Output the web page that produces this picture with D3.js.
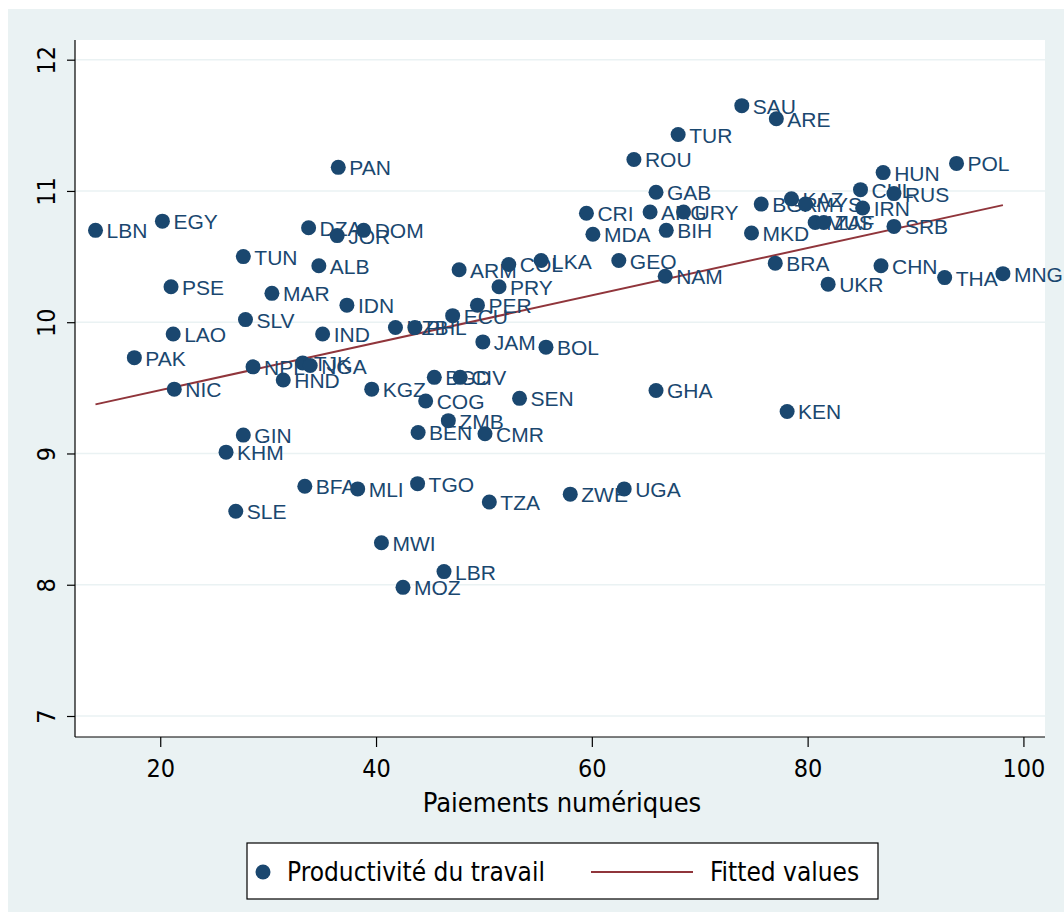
<!DOCTYPE html>
<html>
<head>
<meta charset="utf-8">
<script src="https://cdn.jsdelivr.net/npm/d3@7"></script>
<style>
  html, body { margin: 0; padding: 0; background: #fff; }
  svg { display: block; }
</style>
</head>
<body>
<div id="chart"></div>
<script>
// data //

const countries = ['LBN', 'EGY', 'PSE', 'LAO', 'PAK', 'NIC', 'TUN', 'MAR', 'SLV', 'DZA',
  'JOR', 'DOM', 'ALB', 'IDN', 'IND', 'PAN', 'NPL', 'TJK', 'NGA', 'HND',
  'KGZ', 'UZB', 'PHL', 'ECU', 'PER', 'PRY', 'ARM', 'COL', 'LKA', 'JAM',
  'BOL', 'BGD', 'CIV', 'COG', 'SEN', 'ZMB', 'BEN', 'CMR', 'GIN', 'KHM',
  'BFA', 'MLI', 'TGO', 'TZA', 'SLE', 'MWI', 'LBR', 'MOZ', 'ZWE', 'UGA',
  'GHA', 'KEN', 'NAM', 'GEO', 'MDA', 'CRI', 'GAB', 'ARG', 'URY', 'BIH',
  'ROU', 'TUR', 'SAU', 'ARE', 'MKD', 'BGR', 'KAZ', 'MYS', 'MUS', 'ZAF',
  'BRA', 'UKR', 'CHN', 'CHL', 'HUN', 'RUS', 'IRN', 'SRB', 'POL', 'THA', 'MNG']

const payments = [14.0, 20.2, 21.0, 21.2, 17.6, 21.3, 27.7, 30.35, 27.9, 33.75,
  36.4, 38.85, 34.7, 37.3, 35.05, 36.5, 28.6, 33.2, 33.9, 31.4,
  39.6, 41.8, 43.6, 47.1, 49.4, 51.4, 47.7, 52.3, 55.3, 49.9,
  55.75, 45.4, 47.8, 44.6, 53.3, 46.7, 43.9, 50.1, 27.7, 26.1,
  33.4, 38.3, 43.85, 50.5, 27.0, 40.5, 46.3, 42.5, 58.0, 63.0,
  65.95, 78.1, 66.8, 62.5, 60.1, 59.5, 65.95, 65.4, 68.5, 66.9,
  63.9, 68.0, 73.9, 77.1, 74.8, 75.7, 78.5, 79.8, 80.7, 81.5,
  77.0, 81.9, 86.8, 84.9, 87.0, 88.0, 85.1, 88.0, 93.8, 92.7, 98.1]

const productivity = [10.70, 10.77, 10.27, 9.91, 9.73, 9.49, 10.50, 10.22, 10.02, 10.72,
  10.66, 10.70, 10.43, 10.13, 9.91, 11.18, 9.66, 9.69, 9.67, 9.56,
  9.49, 9.96, 9.96, 10.05, 10.13, 10.27, 10.40, 10.44, 10.47, 9.85,
  9.81, 9.58, 9.58, 9.40, 9.42, 9.25, 9.16, 9.15, 9.14, 9.01,
  8.75, 8.73, 8.77, 8.63, 8.56, 8.32, 8.10, 7.98, 8.69, 8.73,
  9.48, 9.32, 10.35, 10.47, 10.67, 10.83, 10.99, 10.84, 10.84, 10.70,
  11.24, 11.43, 11.65, 11.55, 10.68, 10.90, 10.94, 10.90, 10.76, 10.76,
  10.45, 10.29, 10.43, 11.01, 11.14, 10.98, 10.87, 10.73, 11.21, 10.34, 10.37]

const xTicks = [20, 40, 60, 80, 100]
const yTicks = [7, 8, 9, 10, 11, 12]

const xTitle = 'Paiements numériques'
const legendLabels = ['Productivité du travail', 'Fitted values']

// layout //

const width = 1064
const height = 912
const plot = { left: 75, right: 1045, top: 40, bottom: 737 }

const navy = '#1a476f'
const maroon = '#90353b'
const bgBlue = '#eaf2f3'
const narrow = '"Liberation Sans Narrow", "Arial Narrow", "DejaVu Sans Condensed", sans-serif'

const points = countries.map((c, i) => ({ label: c, x: payments[i], y: productivity[i] }))

// least squares fit, like stata's lfit
function linearFit(xs, ys) {
    const mx = d3.mean(xs)
    const my = d3.mean(ys)
    let sxy = 0
    let sxx = 0
    xs.forEach((x, i) => {
        sxy += (x - mx) * (ys[i] - my)
        sxx += (x - mx) * (x - mx)
    })
    const b = sxy / sxx
    return { a: my - b * mx, b }
}

const fit = linearFit(payments, productivity)
const xExtent = d3.extent(payments)
const fitLine = xExtent.map((x) => ({ x, y: fit.a + fit.b * x }))

const svg = d3
    .select('#chart')
    .append('svg')
    .attr('width', width)
    .attr('height', height)

svg.append('rect')
    .attr('x', 8)
    .attr('y', 9)
    .attr('width', width - 8)
    .attr('height', height - 9)
    .attr('fill', bgBlue)

const x = d3.scaleLinear().domain([12.1, 102.0]).range([plot.left, plot.right])
const y = d3.scaleLinear().domain([6.84, 12.15]).range([plot.bottom, plot.top])

svg.append('rect')
    .attr('x', plot.left)
    .attr('y', plot.top)
    .attr('width', plot.right - plot.left)
    .attr('height', plot.bottom - plot.top)
    .attr('fill', '#fff')

// grid lines
svg.append('g')
    .selectAll('line')
    .data(yTicks)
    .join('line')
    .attr('x1', plot.left)
    .attr('x2', plot.right)
    .attr('y1', (d) => y(d))
    .attr('y2', (d) => y(d))
    .attr('stroke', bgBlue)
    .attr('stroke-width', 1.5)

// axes
const xAxis = svg.append('g')
    .attr('transform', `translate(0,${plot.bottom})`)
    .call(d3.axisBottom(x).tickValues(xTicks).tickFormat(d3.format('d'))
        .tickSize(10).tickPadding(12).tickSizeOuter(0))
xAxis.selectAll('.tick line').attr('stroke', '#000').attr('stroke-width', 1.2)
xAxis.selectAll('.tick text')
    .attr('font-family', narrow)
    .attr('font-size', 25)
    .attr('fill', '#000')

const yAxis = svg.append('g')
    .attr('transform', `translate(${plot.left},0)`)
    .call(d3.axisLeft(y).tickValues(yTicks).tickFormat(d3.format('d'))
        .tickSize(8).tickSizeOuter(0))
yAxis.selectAll('.tick line').attr('stroke', '#000').attr('stroke-width', 1.2)
yAxis.selectAll('.tick text')
    .attr('font-family', narrow)
    .attr('font-size', 25)
    .attr('fill', '#000')
    .attr('x', 0)
    .attr('dy', 0)
    .attr('text-anchor', 'middle')
    .attr('transform', 'translate(-20,0) rotate(-90)')

// axis lines span the whole plot region
xAxis.select('.domain')
    .attr('d', `M${plot.left},0H${plot.right}`)
    .attr('stroke', '#000')
    .attr('stroke-width', 1.2)
yAxis.select('.domain')
    .attr('d', `M0,${plot.top}V${plot.bottom}`)
    .attr('stroke', '#000')
    .attr('stroke-width', 1.2)

svg.append('text')
    .attr('x', 562)
    .attr('y', 812)
    .attr('text-anchor', 'middle')
    .attr('font-family', narrow)
    .attr('font-size', 27)
    .attr('fill', '#000')
    .text(xTitle)

// fitted line
svg.append('path')
    .datum(fitLine)
    .attr('d', d3.line().x((d) => x(d.x)).y((d) => y(d.y)))
    .attr('stroke', maroon)
    .attr('stroke-width', 2)
    .attr('fill', 'none')

// markers and labels
const marks = svg.append('g')
marks.selectAll('circle')
    .data(points)
    .join('circle')
    .attr('cx', (d) => x(d.x))
    .attr('cy', (d) => y(d.y))
    .attr('r', 7.5)
    .attr('fill', navy)

marks.selectAll('text')
    .data(points)
    .join('text')
    .attr('x', (d) => x(d.x) + 11)
    .attr('y', (d) => y(d.y) + 8)
    .attr('font-family', '"Liberation Sans", Arial, sans-serif')
    .attr('font-size', 21)
    .attr('fill', navy)
    .text((d) => d.label)

// legend
const legend = svg.append('g')
legend.append('rect')
    .attr('x', 247)
    .attr('y', 843)
    .attr('width', 631)
    .attr('height', 56)
    .attr('fill', '#fff')
    .attr('stroke', '#000')
    .attr('stroke-width', 1.2)
legend.append('circle')
    .attr('cx', 263)
    .attr('cy', 872)
    .attr('r', 7.5)
    .attr('fill', navy)
legend.append('text')
    .attr('x', 287)
    .attr('y', 881)
    .attr('font-family', narrow)
    .attr('font-size', 26)
    .attr('fill', '#000')
    .text(legendLabels[0])
legend.append('line')
    .attr('x1', 591)
    .attr('x2', 693)
    .attr('y1', 872)
    .attr('y2', 872)
    .attr('stroke', maroon)
    .attr('stroke-width', 2)
legend.append('text')
    .attr('x', 710)
    .attr('y', 881)
    .attr('font-family', narrow)
    .attr('font-size', 26)
    .attr('fill', '#000')
    .text(legendLabels[1])
</script>
</body>
</html>
